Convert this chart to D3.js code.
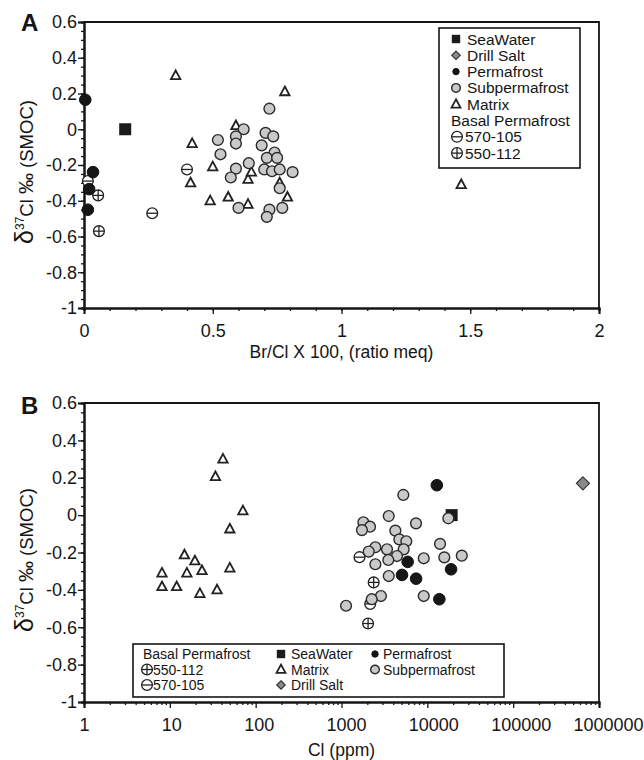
<!DOCTYPE html>
<html>
<head>
<meta charset="utf-8">
<script src="https://cdn.jsdelivr.net/npm/d3@7"></script>
<style>
  body { margin: 0; background: #fff; }
  text { font-family: "Liberation Sans", Arial, Helvetica, sans-serif; fill: #151515; }
  .axis path, .axis line { stroke: #151515; }
</style>
</head>
<body>
<div id="chart"></div>
<script>
// ---- data ----
// panel A: [Br/Cl x 100 (ratio meq), d37Cl permil]
var aSeaWater = [[0.16, 0.0]];
var aPermafrost = [[0.005, 0.165], [0.035, -0.24], [0.02, -0.335], [0.015, -0.45]];
var aSubpermafrost = [
  [0.72, 0.115], [0.62, 0.0], [0.59, -0.04], [0.59, -0.08], [0.52, -0.06], [0.53, -0.14],
  [0.705, -0.02], [0.735, -0.04], [0.69, -0.09], [0.74, -0.13], [0.71, -0.16], [0.75, -0.16],
  [0.64, -0.19], [0.59, -0.22], [0.70, -0.225], [0.73, -0.235], [0.76, -0.225], [0.81, -0.24],
  [0.57, -0.27], [0.76, -0.33], [0.60, -0.44], [0.72, -0.45], [0.71, -0.49], [0.77, -0.44]
];
var aMatrix = [
  [0.356, 0.30], [0.42, -0.08], [0.414, -0.30], [0.50, -0.21], [0.49, -0.40], [0.56, -0.38],
  [0.59, 0.02], [0.637, -0.42], [0.637, -0.28], [0.65, -0.24], [0.78, 0.21], [0.79, -0.38],
  [0.76, -0.30], [1.465, -0.31]
];
var aBasal570 = [[0.015, -0.29], [0.265, -0.47], [0.40, -0.225]];
var aBasal550 = [[0.055, -0.37], [0.058, -0.57]];

// panel B: [Cl (ppm), d37Cl permil]
var bSeaWater = [[19200, 0.0]];
var bDrillSalt = [[650000, 0.17]];
var bPermafrost = [[12900, 0.16], [5900, -0.25], [5070, -0.32], [7400, -0.34], [18900, -0.29], [13800, -0.45]];
var bSubpermafrost = [
  [5250, 0.108], [3550, -0.005], [1800, -0.038], [2150, -0.062], [1730, -0.08], [7380, -0.044],
  [17570, -0.017], [4240, -0.083], [4720, -0.13], [5690, -0.14], [5300, -0.183], [14060, -0.154],
  [2480, -0.172], [3390, -0.183], [2075, -0.195], [4430, -0.219], [3510, -0.24], [2480, -0.263],
  [9080, -0.231], [15770, -0.226], [25200, -0.217], [3550, -0.326], [2880, -0.433], [2250, -0.45],
  [9080, -0.433], [1130, -0.485]
];
var bMatrix = [
  [41.6, 0.30], [34, 0.206], [71, 0.023], [50, -0.074], [14.8, -0.213], [19.6, -0.245],
  [23.7, -0.297], [15.8, -0.31], [50, -0.283], [8.1, -0.31], [8.1, -0.383], [12.0, -0.383],
  [22.4, -0.42], [35.5, -0.40]
];
var bBasal570 = [[1620, -0.225], [2160, -0.475]];
var bBasal550 = [[2370, -0.36], [2040, -0.58]];

// ticks
var yTicks = [-1, -0.8, -0.6, -0.4, -0.2, 0, 0.2, 0.4, 0.6];
var aXTicks = [0, 0.5, 1, 1.5, 2];
var bXTicks = [1, 10, 100, 1000, 10000, 100000, 1000000];

var legendA = [
  ["sea", "SeaWater"], ["salt", "Drill Salt"], ["perm", "Permafrost"], ["sub", "Subpermafrost"],
  ["matrix", "Matrix"], [null, "Basal Permafrost"], ["b570", "570-105"], ["b550", "550-112"]
];
var legendB = [
  [null, "Basal Permafrost"], ["b550", "550-112"], ["b570", "570-105"],
  ["sea", "SeaWater"], ["matrix", "Matrix"], ["salt", "Drill Salt"],
  ["perm", "Permafrost"], ["sub", "Subpermafrost"]
];

var width = 644, height = 760;
var svg = d3.select("#chart").append("svg").attr("width", width).attr("height", height);

var yMinor = d3.range(-20, 13).map(function (i) { return i * 0.05; });

// draws one marker, s = scale factor (legend uses smaller marks)
function marker(g, type, cx, cy, s) {
  s = s || 1;
  var m = g.append("g").attr("transform", "translate(" + cx + "," + cy + ")");
  if (type == "sea") {
    m.append("rect").attr("x", -6 * s).attr("y", -6 * s).attr("width", 12 * s).attr("height", 12 * s)
      .attr("fill", "#1b1b1b");
  } else if (type == "salt") {
    var d = 6.5 * s;
    m.append("path").attr("d", "M0," + (-d) + "L" + d + ",0L0," + d + "L" + (-d) + ",0Z")
      .attr("fill", "#8a8a8a").attr("stroke", "#333").attr("stroke-width", 1.2);
  } else if (type == "perm") {
    m.append("circle").attr("r", 5.8 * s).attr("fill", "#161616").attr("stroke", "#111").attr("stroke-width", 1);
  } else if (type == "sub") {
    m.append("circle").attr("r", 5.4 * s).attr("fill", "#c9c9c9").attr("stroke", "#2a2a2a").attr("stroke-width", 1.4);
  } else if (type == "matrix") {
    var h = 4.7 * s;
    m.append("path").attr("d", "M0," + (-h * 1.1) + "L" + h + "," + (h * 0.75) + "L" + (-h) + "," + (h * 0.75) + "Z")
      .attr("fill", "#fff").attr("stroke", "#222").attr("stroke-width", 1.8);
  } else if (type == "b570" || type == "b550") {
    var r = 5.4 * s;
    m.append("circle").attr("r", r).attr("fill", "#fff").attr("stroke", "#222").attr("stroke-width", 1.3);
    m.append("line").attr("x1", -r).attr("x2", r).attr("stroke", "#222").attr("stroke-width", 1.3);
    if (type == "b550")
      m.append("line").attr("y1", -r).attr("y2", r).attr("stroke", "#222").attr("stroke-width", 1.3);
  }
}

function series(g, data, type, x, y) {
  data.forEach(function (d) { marker(g, type, x(d[0]), y(d[1])); });
}

function fmtY(v) { return String(+v.toFixed(1)); }

function styleAxis(a, fs) {
  a.attr("class", "axis");
  a.select(".domain").attr("stroke-width", 2);
  a.selectAll(".tick line").attr("stroke-width", 1.3);
  a.selectAll("text").style("font-size", fs + "px").attr("fill", "#151515");
}

function yTitle(g, cx, cy) {
  var t = g.append("text").attr("transform", "translate(" + cx + "," + cy + ") rotate(-90)")
    .attr("text-anchor", "middle").style("font-size", "18.5px");
  t.append("tspan").text("\u03b4").style("font-size", "25px");
  t.append("tspan").text("37").style("font-size", "12px").attr("dy", -9);
  t.append("tspan").text("Cl ").attr("dy", 9);
  t.append("tspan").text("\u2030").style("font-size", "21px");
  t.append("tspan").text(" (SMOC)");
}

function frame(g, x0, x1, y0, y1) {
  g.append("path").attr("d", "M" + x0 + "," + y0 + "H" + x1 + "V" + y1)
    .attr("fill", "none").attr("stroke", "#151515").attr("stroke-width", 1.8);
}

function yAxes(g, y, left) {
  var a1 = g.append("g").attr("transform", "translate(" + left + ",0)")
    .call(d3.axisLeft(y).tickValues(yMinor).tickSize(3).tickFormat(""));
  styleAxis(a1, 16);
  var a2 = g.append("g").attr("transform", "translate(" + left + ",0)")
    .call(d3.axisLeft(y).tickValues(yTicks).tickSize(6).tickPadding(1).tickFormat(fmtY));
  styleAxis(a2, 18);
}

// ---------- panel A ----------
var A = { left: 84, right: 599, top: 22, bottom: 308 };
var xA = d3.scaleLinear().domain([0, 2]).range([A.left, A.right]);
var yA = d3.scaleLinear().domain([-1, 0.6]).range([A.bottom, A.top]);
var gA = svg.append("g");

frame(gA, A.left, A.right, A.top, A.bottom);
var axA1 = gA.append("g").attr("transform", "translate(0," + A.bottom + ")")
  .call(d3.axisBottom(xA).tickValues(d3.range(0, 21).map(function (i) { return i / 10; })).tickSize(3).tickFormat(""));
styleAxis(axA1, 16);
var axA2 = gA.append("g").attr("transform", "translate(0," + A.bottom + ")")
  .call(d3.axisBottom(xA).tickValues(aXTicks).tickSize(6).tickPadding(10).tickFormat(function (d) { return String(d); }));
styleAxis(axA2, 18);
yAxes(gA, yA, A.left);

gA.append("text").attr("x", (A.left + A.right) / 2).attr("y", 358).attr("text-anchor", "middle")
  .style("font-size", "17.5px").text("Br/Cl X 100, (ratio meq)");
yTitle(gA, 33, 172);
gA.append("text").attr("x", 21).attr("y", 31).style("font-size", "24px").style("font-weight", "bold").text("A");

var pA = gA.append("g");
series(pA, aBasal570, "b570", xA, yA);
series(pA, aBasal550, "b550", xA, yA);
series(pA, aSeaWater, "sea", xA, yA);
series(pA, aMatrix, "matrix", xA, yA);
series(pA, aSubpermafrost, "sub", xA, yA);
series(pA, aPermafrost, "perm", xA, yA);

// legend A
var lA = gA.append("g");
lA.append("rect").attr("x", 439).attr("y", 28).attr("width", 141).attr("height", 140)
  .attr("fill", "#fff").attr("stroke", "#151515").attr("stroke-width", 1.6);
var legSize = { sea: 0.7, salt: 0.65, perm: 0.55, sub: 0.8, matrix: 0.95, b570: 1, b550: 1 };
legendA.forEach(function (d, i) {
  var cy = 39 + i * 16.3;
  if (d[0]) {
    marker(lA, d[0], d[0][0] == "b" ? 457 : 456, cy, legSize[d[0]]);
    lA.append("text").attr("x", d[0][0] == "b" ? 465 : 467).attr("y", cy + 5.5).style("font-size", "15.5px").text(d[1]);
  } else {
    lA.append("text").attr("x", 451).attr("y", cy + 5.5).style("font-size", "15.5px").text(d[1]);
  }
});

// ---------- panel B ----------
var B = { left: 84, right: 599, top: 403, bottom: 702 };
var xB = d3.scaleLog().domain([1, 1000000]).range([B.left, B.right]);
var yB = d3.scaleLinear().domain([-1, 0.6]).range([B.bottom, B.top]);
var gB = svg.append("g");

frame(gB, B.left, B.right, B.top, B.bottom);
var bMinor = [];
for (var dec = 0; dec < 6; dec++) for (var k = 2; k < 10; k++) bMinor.push(k * Math.pow(10, dec));
var axB1 = gB.append("g").attr("transform", "translate(0," + B.bottom + ")")
  .call(d3.axisBottom(xB).tickValues(bMinor).tickSize(3).tickFormat(""));
styleAxis(axB1, 16);
var axB2 = gB.append("g").attr("transform", "translate(0," + B.bottom + ")")
  .call(d3.axisBottom(xB).tickValues(bXTicks).tickSize(6).tickPadding(10).tickFormat(function (d) { return String(d); }));
styleAxis(axB2, 18);
axB2.selectAll(".tick text").attr("dx", function (d, i) { return i * 1.5; });
yAxes(gB, yB, B.left);

gB.append("text").attr("x", (B.left + B.right) / 2).attr("y", 756).attr("text-anchor", "middle")
  .style("font-size", "17.5px").text("Cl (ppm)");
yTitle(gB, 33, 560);
gB.append("text").attr("x", 21).attr("y", 414).style("font-size", "24px").style("font-weight", "bold").text("B");

var pB = gB.append("g");
series(pB, bBasal570, "b570", xB, yB);
series(pB, bBasal550, "b550", xB, yB);
series(pB, bSeaWater, "sea", xB, yB);
series(pB, bDrillSalt, "salt", xB, yB);
series(pB, bMatrix, "matrix", xB, yB);
series(pB, bSubpermafrost, "sub", xB, yB);
series(pB, bPermafrost, "perm", xB, yB);

// legend B, three columns
var lB = gB.append("g");
lB.append("rect").attr("x", 133).attr("y", 644).attr("width", 371).attr("height", 53)
  .attr("fill", "#fff").attr("stroke", "#151515").attr("stroke-width", 1.6);
var colX = [[147, 153], [281, 291], [375, 383]];
legendB.forEach(function (d, i) {
  var col = Math.floor(i / 3), row = i % 3;
  if (i >= 6) { col = 2; row = i - 6; }
  var cy = 654 + row * 15.5;
  if (d[0]) {
    marker(lB, d[0], colX[col][0], cy, legSize[d[0]]);
    lB.append("text").attr("x", colX[col][1]).attr("y", cy + 5).style("font-size", "14px").text(d[1]);
  } else {
    lB.append("text").attr("x", 143).attr("y", cy + 5).style("font-size", "14px").text(d[1]);
  }
});
</script>
</body>
</html>
